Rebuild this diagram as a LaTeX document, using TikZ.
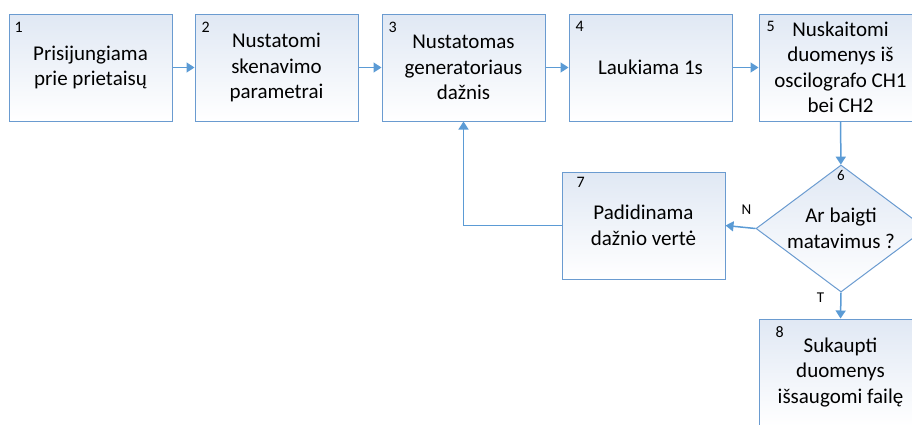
\documentclass[tikz,border=0pt]{standalone}
\usepackage{fontspec}
\setmainfont{Carlito}
\usetikzlibrary{arrows.meta,positioning,shapes.geometric}
\definecolor{edgeblue}{RGB}{106,155,208}
\definecolor{arrowblue}{RGB}{91,155,213}
\definecolor{topfill}{RGB}{224,232,244}
\tikzset{
  stepbox/.style={draw=edgeblue, line width=1pt, top color=topfill, bottom color=white,
    minimum width=163pt, minimum height=107pt, inner sep=0pt, align=center,
    font=\fontsize{21}{25.5}\selectfont},
  decision/.style={diamond, shape aspect=1.34, draw=edgeblue, line width=1pt,
    top color=topfill, bottom color=white, minimum width=170pt, minimum height=127pt,
    inner sep=-6pt, align=center, font=\fontsize{21}{25.5}\selectfont},
  flow/.style={draw=arrowblue, line width=1.5pt, -{Triangle[length=8pt,width=10pt]}},
  num/.style={anchor=north west, inner sep=0pt, font=\fontsize{16}{18}\selectfont},
  lbl/.style={inner sep=0pt, font=\fontsize{15}{17}\selectfont}
}
\begin{document}
\begin{tikzpicture}[x=1pt,y=-1pt]
      \useasboundingbox (0,0) rectangle (912,424);
      \clip (0,0) rectangle (912,424);
      % Process steps
      \node[stepbox] (connect) at (90.5,67.5) {Prisijungiama\\prie prietaisų};
      \node[stepbox] (scan) at (276.5,67.5) {Nustatomi\\skenavimo\\parametrai};
      \node[stepbox] (freq) at (463.5,67.5) {Nustatomas\\generatoriaus\\dažnis};
      \node[stepbox] (wait) at (650.5,67.5) {Laukiama 1s};
      \node[stepbox] (read) at (840.5,67.5) {Nuskaitomi\\duomenys iš\\oscilografo CH1\\bei CH2};
      \node[decision] (done) at (841,228.5) {Ar baigti\\matavimus ?};
      \node[stepbox] (incr) at (643.5,225.5) {Padidinama\\dažnio vertė};
      \node[stepbox] (save) at (840.5,372.5) {Sukaupti\\duomenys\\išsaugomi failę};
      % Step numbers
      \node[num] (n1) at ([shift={(6,8)}]connect.north west) {1};
      \node[num] (n2) at ([shift={(7,8)}]scan.north west) {2};
      \node[num] (n3) at ([shift={(7,8)}]freq.north west) {3};
      \node[num] (n4) at ([shift={(7,8)}]wait.north west) {4};
      \node[num] (n5) at ([shift={(8,8)}]read.north west) {5};
      \node[num] (n7) at ([shift={(15,6)}]incr.north west) {7};
      \node[num] (n8) at ([shift={(17,8)}]save.north west) {8};
      \node[lbl, anchor=north] (n6) at ([shift={(0,6)}]done.north) {6};
      % Connectors
      \draw[flow] (connect) -- (scan);
      \draw[flow] (scan) -- (freq);
      \draw[flow] (freq) -- (wait);
      \draw[flow] (wait) -- (read);
      \draw[flow] (read) -- (done);
      \draw[flow] (done.west) -- node[lbl, pos=0.3, above=12pt] {N} (incr.east);
      \draw[flow] (incr.west) -| (freq.south);
      \draw[flow] (done.south) -- node[lbl, pos=0.2, left=16pt] {T} (save.north);
\end{tikzpicture}
\end{document}
